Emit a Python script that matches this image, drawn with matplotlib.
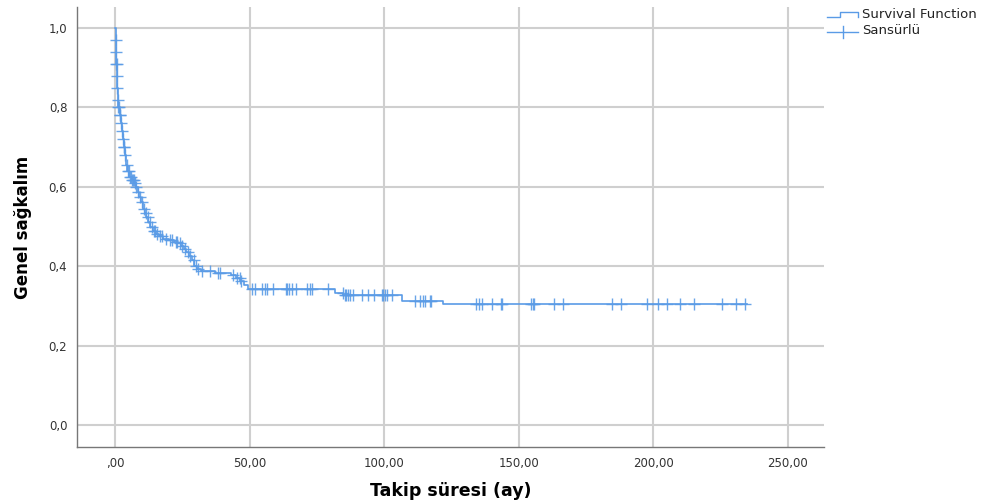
import numpy as np
import matplotlib
matplotlib.use("Agg")
import matplotlib.pyplot as plt
from matplotlib.lines import Line2D

# Kaplan-Meier adımları (zaman, adım sonrası sağkalım)
olay_zaman = [0.0, 0.2, 0.35, 0.5, 0.65, 0.8, 1.0, 1.3, 1.7, 2.1, 2.5, 2.9, 3.2, 3.6,
              4.1, 4.6, 5.4, 6.3, 7.2, 7.8, 8.4, 9.0, 9.6, 10.3, 11.0, 11.7, 12.4,
              13.2, 14.2, 15.3, 16.5, 18.0, 20.0, 22.0, 23.5, 24.5, 25.5, 26.5,
              27.5, 28.5, 29.5, 30.5, 32.0, 37.0, 43.0, 45.0, 46.5, 48.0, 49.5,
              81.7, 84.7, 106.8, 121.7]
olay_surv = [1.0, 0.97, 0.94, 0.91, 0.88, 0.85, 0.82, 0.80, 0.78, 0.76, 0.74, 0.72,
             0.70, 0.68, 0.655, 0.64, 0.625, 0.618, 0.61, 0.60, 0.588, 0.575,
             0.562, 0.545, 0.535, 0.525, 0.512, 0.50, 0.49, 0.482, 0.476, 0.47,
             0.466, 0.462, 0.458, 0.45, 0.443, 0.435, 0.425, 0.415, 0.402, 0.392,
             0.388, 0.383, 0.378, 0.37, 0.362, 0.352, 0.343, 0.334, 0.327, 0.313,
             0.306]

# Sansürlü gözlemler (ay)
sansur_zaman = [0.2, 0.4, 0.5, 0.6, 0.7, 0.9, 1.1, 1.3, 1.5, 1.8, 2.0, 2.3, 2.6,
                3.0, 3.3, 3.5, 3.9, 4.3, 4.8, 5.2, 5.6, 6.0, 6.4, 6.8, 7.1, 7.5,
                8.0, 8.6, 9.2, 10.0, 10.8, 11.5, 12.2, 13.0, 13.6, 14.5, 15.0,
                15.8, 16.8, 17.5, 19.0, 20.5, 21.2, 22.5, 23.2, 24.0, 25.0, 26.0,
                27.0, 28.0, 29.2, 30.0, 31.0, 32.3, 35.3, 38.4, 39.0, 43.9, 45.2,
                46.4, 47.0, 50.8, 52.0, 54.5, 55.7, 56.3, 58.8, 63.5, 64.0, 64.8,
                65.6, 67.2, 71.2, 72.4, 73.1, 79.2, 84.6, 85.4, 86.0, 86.7, 87.5,
                88.3, 91.9, 94.1, 96.2, 99.1, 99.7, 100.3, 100.9, 102.8, 111.4,
                113.5, 114.3, 115.1, 117.0, 117.6, 134.1, 135.3, 136.2, 139.9,
                143.6, 143.9, 154.5, 155.2, 155.7, 163.2, 166.5, 184.6, 188.0,
                197.5, 201.6, 205.2, 210.1, 215.2, 225.7, 230.9, 234.2]
son_zaman = 235.0

x_ticks = [0, 50, 100, 150, 200, 250]
x_tick_labels = [",00", "50,00", "100,00", "150,00", "200,00", "250,00"]
y_ticks = [0.0, 0.2, 0.4, 0.6, 0.8, 1.0]
y_tick_labels = ["0,0", "0,2", "0,4", "0,6", "0,8", "1,0"]

renk = "#5a9be6"
plt.rcParams["font.family"] = ["DejaVu Sans"]

fig = plt.figure(figsize=(10.08, 5.04), dpi=100)
ax = fig.add_axes([0.0764, 0.1131, 0.741, 0.873])

# basamak eğrisi
xs = list(olay_zaman) + [son_zaman]
ys = list(olay_surv) + [olay_surv[-1]]
ax.step(xs, ys, where="post", color=renk, lw=1.2, zorder=3)

# sansür işaretleri
idx = np.searchsorted(olay_zaman, sansur_zaman, side="right") - 1
sansur_y = np.array(olay_surv)[idx]
ax.plot(sansur_zaman, sansur_y, ls="none", marker="+", ms=9, mew=1.0,
        color=renk, alpha=0.9, zorder=4)

ax.set_xlim(-14.1, 263.4)
ax.set_ylim(-0.055, 1.053)
ax.set_xticks(x_ticks)
ax.set_xticklabels(x_tick_labels)
ax.set_yticks(y_ticks)
ax.set_yticklabels(y_tick_labels)
ax.tick_params(length=0, labelsize=8.5, colors="#333333", pad=7)
ax.grid(True, color="#cfcfcf", lw=1.5, zorder=0)
for s in ["top", "right"]:
    ax.spines[s].set_visible(False)
for s in ["left", "bottom"]:
    ax.spines[s].set_color("#777777")
    ax.spines[s].set_linewidth(1.0)

ax.set_xlabel("Takip süresi (ay)", fontsize=12.5, fontweight="bold", labelpad=9)
ax.set_ylabel("Genel sağkalım", fontsize=12, fontweight="bold", labelpad=12)

# lejant (grafik dışında, sağ üst)
W, H = 1008.0, 504.0
def fx(p):
    return p / W
def fy(p):
    return 1 - p / H

fig.add_artist(Line2D([fx(827), fx(840), fx(840), fx(858), fx(858)],
                      [fy(16.7), fy(16.7), fy(12.3), fy(12.3), fy(16.7)],
                      color=renk, lw=1.0))
fig.text(fx(862), fy(15), "Survival Function", fontsize=9.5, va="center",
         ha="left", color="#222222")
fig.add_artist(Line2D([fx(827), fx(858)], [fy(32), fy(32)], color=renk, lw=1.0))
fig.add_artist(Line2D([fx(843), fx(843)], [fy(26), fy(38)], color=renk, lw=1.0))
fig.text(fx(862), fy(31), "Sansürlü", fontsize=9.5, va="center",
         ha="left", color="#222222")

fig.savefig("out.png", dpi=100)
